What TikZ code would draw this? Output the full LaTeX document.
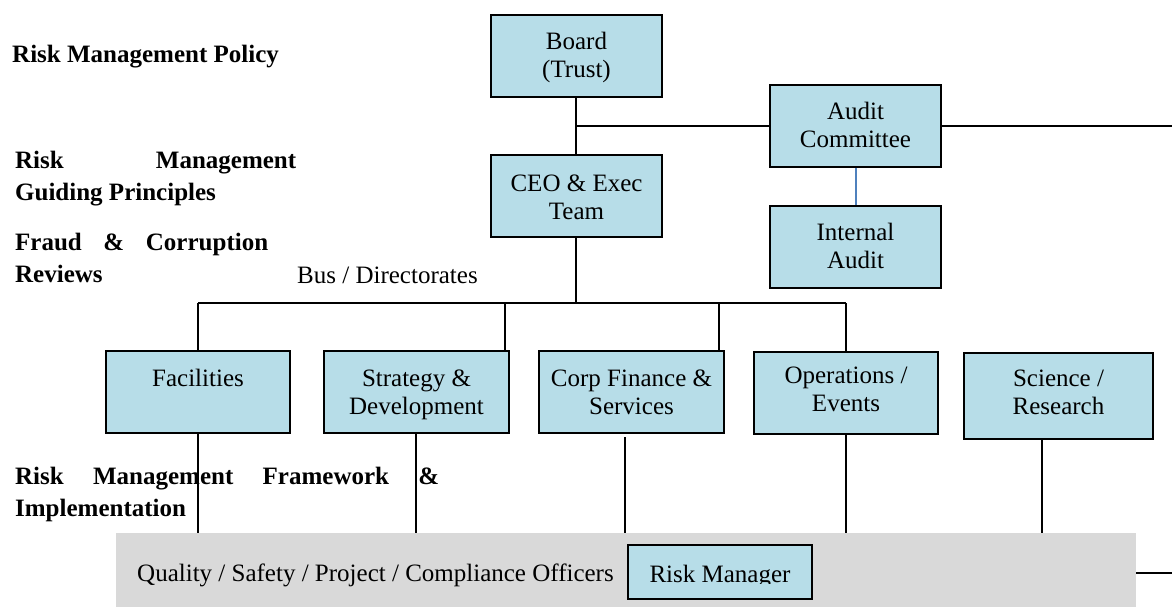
\documentclass[tikz,border=0pt]{standalone}
\usepackage{fontspec}
\setmainfont{Liberation Serif}
\definecolor{boxblue}{HTML}{B7DDE8}
\definecolor{bandgrey}{HTML}{D9D9D9}
\definecolor{linkblue}{HTML}{4F81BD}
\tikzset{
  orgbox/.style={rectangle, draw=black, line width=1.5pt, fill=boxblue, inner sep=0pt},
  boxtext/.style={anchor=north, inner sep=0pt, align=center, font=\fontsize{25}{28}\selectfont},
  conn/.style={line width=1.5pt, draw=black},
  bluelink/.style={line width=2pt, draw=linkblue},
  sidetext/.style={anchor=north west, inner sep=0pt, align=justify, font=\bfseries\fontsize{25}{32.5}\selectfont},
  plaintext/.style={inner sep=0pt, font=\fontsize{25}{28}\selectfont}
}
\begin{document}
\begin{tikzpicture}[x=1pt, y=-1pt]
\useasboundingbox (0,0) rectangle (1172,607);

% grey band
\node[rectangle, fill=bandgrey, inner sep=0pt, minimum width=1020pt, minimum height=74pt] (band) at (626,570) {};

% boxes
\node[orgbox, minimum width=171pt, minimum height=82pt] (board) at (576.5,56) {};
\node[orgbox, minimum width=171pt, minimum height=82pt] (ceo) at (576.5,196) {};
\node[orgbox, minimum width=171pt, minimum height=82pt] (audit) at (855.5,126) {};
\node[orgbox, minimum width=171pt, minimum height=82pt] (internal) at (855.5,247) {};
\node[orgbox, minimum width=184pt, minimum height=82pt] (facilities) at (198,392) {};
\node[orgbox, minimum width=185pt, minimum height=82pt] (strategy) at (416.5,392) {};
\node[orgbox, minimum width=185pt, minimum height=82pt] (corp) at (631.5,392) {};
\node[orgbox, minimum width=184pt, minimum height=82pt] (ops) at (846,393) {};
\node[orgbox, minimum width=189pt, minimum height=86pt] (science) at (1058.5,396) {};
\node[orgbox, minimum width=184pt, minimum height=54pt] (riskmgr) at (720,572) {};

% box texts (first baseline about 35px below the box top)
\node[boxtext] (boardt) at ([yshift=-15.4pt]board.north) {\strut Board\\(Trust)};
\node[boxtext] (ceot) at ([yshift=-17pt]ceo.north) {\strut CEO \& Exec\\Team};
\node[boxtext] (auditt) at ([yshift=-15.4pt]audit.north) {\strut Audit\\Committee};
\node[boxtext] (internalt) at ([yshift=-15.4pt]internal.north) {\strut Internal\\Audit};
\node[boxtext] (facilitiest) at ([yshift=-16.4pt]facilities.north) {\strut Facilities};
\node[boxtext] (strategyt) at ([yshift=-16.4pt]strategy.north) {\strut Strategy \&\\Development};
\node[boxtext] (corpt) at ([yshift=-16.4pt]corp.north) {\strut Corp Finance \&\\Services};
\node[boxtext] (opst) at ([yshift=-12.4pt]ops.north) {\strut Operations /\\Events};
\node[boxtext] (sciencet) at ([yshift=-14.4pt]science.north) {\strut Science /\\Research};
\begin{scope}
  \clip (628,545) rectangle (812,583.5);
  \node[plaintext, anchor=base] (riskmgrt) at (720,582) {Risk Manager};
\end{scope}

% connectors
\draw[conn] ([xshift=-0.5pt]board.south) -- ([xshift=-0.5pt]ceo.north);
\coordinate (jA) at (576,126);
\draw[conn] (jA) -- (jA -| audit.west);
\coordinate (eR) at (1172,126);
\draw[conn] (audit.east) -- (eR);
\draw[bluelink] ([xshift=0.5pt]audit.south) -- ([xshift=0.5pt]internal.north);
\coordinate (busC) at (576,303);
\coordinate (busL) at (198,303);
\coordinate (busR) at (846,303);
\draw[conn] ([xshift=-0.5pt]ceo.south) -- (busC);
\draw[conn] (busL) -- (busR);
\draw[conn] (busL) -- (facilities.north);
\coordinate (tS) at (505,303);
\draw[conn] (tS) -- (tS |- strategy.north);
\coordinate (tC) at (719,303);
\draw[conn] (tC) -- (tC |- corp.north);
\draw[conn] (busR) -- (ops.north);
\draw[conn] (facilities.south) -- (facilities.south |- band.north);
\coordinate (sgD) at (416,433);
\draw[conn] (sgD) -- (sgD |- band.north);
\coordinate (cD) at (625,437);
\draw[conn] (cD) -- (cD |- band.north);
\draw[conn] (ops.south) -- (ops.south |- band.north);
\coordinate (sD) at (1042,439);
\draw[conn] (sD) -- (sD |- band.north);
\coordinate (bR) at (1172,573);
\draw[conn] (bR -| band.east) -- (bR);

% side texts
\node[plaintext, anchor=base west, font=\bfseries\fontsize{25}{28}\selectfont] (policy) at (12,63) {Risk Management Policy};
\node[sidetext, text width=281pt] (guiding) at (15,145.25) {\noindent\strut Risk Management\linebreak Guiding Principles};
\node[sidetext, text width=253pt] (fraud) at (15,227.25) {\noindent\strut Fraud \& Corruption\linebreak Reviews};
\node[plaintext, anchor=base west] (bus) at (297,283) {Bus / Directorates};
\node[sidetext, text width=424pt] (framework) at (15,461.25) {\noindent\strut Risk Management Framework \&\linebreak Implementation};
\node[plaintext, anchor=base west] (officers) at (137,581) {Quality / Safety / Project / Compliance Officers};

\end{tikzpicture}
\end{document}
